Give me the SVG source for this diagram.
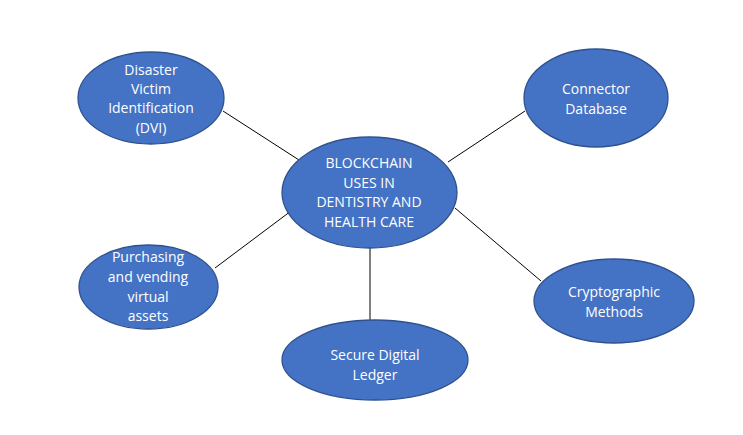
<svg xmlns="http://www.w3.org/2000/svg" width="743" height="435" viewBox="0 0 743 435">
<style>
.n{fill:#4472C4;stroke:#2F528F;stroke-width:1.3}
.t{fill:#FFFFFF;font-family:"Open Sans","Liberation Sans",sans-serif;font-size:14px;text-anchor:middle}
.c{stroke:#000;stroke-width:1;fill:none}
</style>
<rect width="743" height="435" fill="#FFFFFF"/>
<g id="connectors">
<line class="c" x1="223" y1="111" x2="299" y2="160"/>
<line class="c" x1="448" y1="162" x2="525" y2="111"/>
<line class="c" x1="215" y1="268" x2="291" y2="211"/>
<line class="c" x1="370" y1="248" x2="370" y2="320"/>
<line class="c" x1="455" y1="208" x2="541" y2="281"/>
</g>
<g id="center">
<ellipse class="n" cx="369.5" cy="192.5" rx="87.5" ry="55.5"/>
<text class="t" x="369" y="168">BLOCKCHAIN</text>
<text class="t" x="369" y="188">USES IN</text>
<text class="t" x="369" y="207">DENTISTRY AND</text>
<text class="t" x="369" y="227">HEALTH CARE</text>
</g>
<g id="dvi">
<ellipse class="n" cx="151" cy="98" rx="73" ry="46"/>
<text class="t" x="151" y="75">Disaster</text>
<text class="t" x="151" y="94">Victim</text>
<text class="t" x="151" y="113">Identification</text>
<text class="t" x="151" y="133">(DVI)</text>
</g>
<g id="purchasing">
<ellipse class="n" cx="148.5" cy="287" rx="69.5" ry="42"/>
<text class="t" x="148" y="262">Purchasing</text>
<text class="t" x="148" y="282">and vending</text>
<text class="t" x="148" y="302">virtual</text>
<text class="t" x="148" y="321">assets</text>
</g>
<g id="ledger">
<ellipse class="n" cx="375" cy="360" rx="93" ry="40"/>
<text class="t" x="375" y="360">Secure Digital</text>
<text class="t" x="375" y="380">Ledger</text>
</g>
<g id="connector-db">
<ellipse class="n" cx="596" cy="98" rx="72" ry="49"/>
<text class="t" x="596" y="94">Connector</text>
<text class="t" x="596" y="114">Database</text>
</g>
<g id="crypto">
<ellipse class="n" cx="614" cy="301" rx="80" ry="42"/>
<text class="t" x="614" y="297">Cryptographic</text>
<text class="t" x="614" y="317">Methods</text>
</g>
</svg>
